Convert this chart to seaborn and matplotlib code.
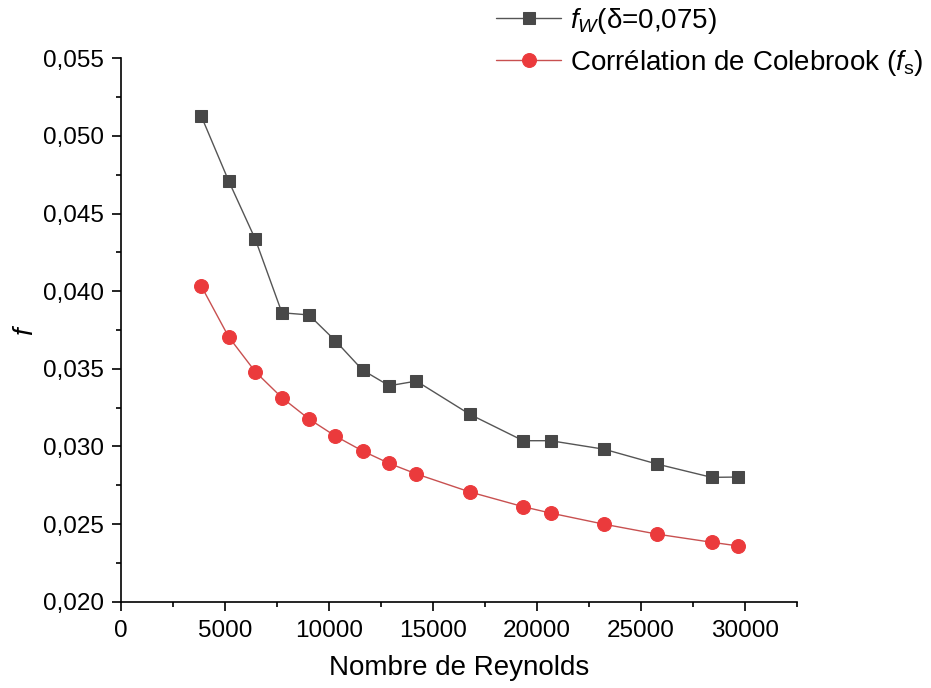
import matplotlib
matplotlib.use("Agg")
import matplotlib.pyplot as plt
from matplotlib.ticker import MultipleLocator, FuncFormatter
import seaborn as sns
import pandas as pd

# Reynolds numbers of the measurement points
reynolds = [3840, 5160, 6450, 7730, 9030, 10300, 11610, 12890,
            14200, 16770, 19340, 20660, 23240, 25800, 28410, 29700]
# Measured friction factor f_w (delta = 0,075)
f_w = [0.05130, 0.04712, 0.04334, 0.03861, 0.03847, 0.03681, 0.03492, 0.03391,
       0.03421, 0.03207, 0.03037, 0.03037, 0.02982, 0.02886, 0.02801, 0.02803]
# Colebrook correlation f_s
f_s = [0.04035, 0.03707, 0.03481, 0.03314, 0.03177, 0.03067, 0.02971, 0.02891,
       0.02823, 0.02707, 0.02612, 0.02571, 0.02499, 0.02435, 0.02383, 0.02359]

label_w = r"$f_W$(δ=0,075)"
label_s = r"Corrélation de Colebrook ($f_\mathrm{s}$)"

sns.set_style("ticks")
plt.rcParams["font.family"] = ["Liberation Sans", "DejaVu Sans"]
plt.rcParams["mathtext.fontset"] = "custom"
plt.rcParams["mathtext.rm"] = "Liberation Sans"
plt.rcParams["mathtext.it"] = "Liberation Sans:italic"
plt.rcParams["mathtext.bf"] = "Liberation Sans:bold"
plt.rcParams["text.color"] = "black"
plt.rcParams["axes.labelcolor"] = "black"
plt.rcParams["xtick.color"] = "black"
plt.rcParams["ytick.color"] = "black"

df = pd.DataFrame({"Re": reynolds, "fw": f_w, "fs": f_s})

fig = plt.figure(figsize=(9.31, 6.88), dpi=100)
ax = fig.add_axes([0.1303, 0.1254, 0.8557 - 0.1303, 0.9153 - 0.1254])

sns.lineplot(data=df, x="Re", y="fw", ax=ax, color="#555555", linewidth=1.0,
             marker="s", markersize=9, markerfacecolor="#484848",
             markeredgecolor="#484848", label=label_w, legend=False)
sns.lineplot(data=df, x="Re", y="fs", ax=ax, color="#c85050", linewidth=1.0,
             marker="o", markersize=10, markerfacecolor="#eb3a3c",
             markeredgecolor="#eb3a3c", label=label_s, legend=False)

ax.set_xlim(0, 32500)
ax.set_ylim(0.020, 0.055)
ax.xaxis.set_major_locator(MultipleLocator(5000))
ax.xaxis.set_minor_locator(MultipleLocator(2500))
ax.yaxis.set_major_locator(MultipleLocator(0.005))
ax.yaxis.set_minor_locator(MultipleLocator(0.0025))
ax.yaxis.set_major_formatter(FuncFormatter(lambda v, p: f"{v:.3f}".replace(".", ",")))
ax.xaxis.set_major_formatter(FuncFormatter(lambda v, p: f"{v:.0f}"))

for side in ("top", "right"):
    ax.spines[side].set_visible(False)
for side in ("left", "bottom"):
    ax.spines[side].set_linewidth(1.2)
    ax.spines[side].set_color("black")

ax.tick_params(which="major", length=6.5, width=1.2, labelsize=17.5)
ax.tick_params(axis="y", which="major", pad=6)
ax.tick_params(axis="x", which="major", pad=7)
ax.tick_params(which="minor", length=3.5, width=1.2)

ax.set_xlabel("Nombre de Reynolds", fontsize=20, labelpad=9)
ax.set_ylabel(r"$f$", fontsize=20, labelpad=3)

handles, labels = ax.get_legend_handles_labels()
fig.legend(handles, labels, loc="upper left", bbox_to_anchor=(0.521, 1.008),
           frameon=False, fontsize=20, handlelength=2.35, handletextpad=0.3,
           labelspacing=0.45, borderaxespad=0)

fig.savefig("out.png", dpi=100)
